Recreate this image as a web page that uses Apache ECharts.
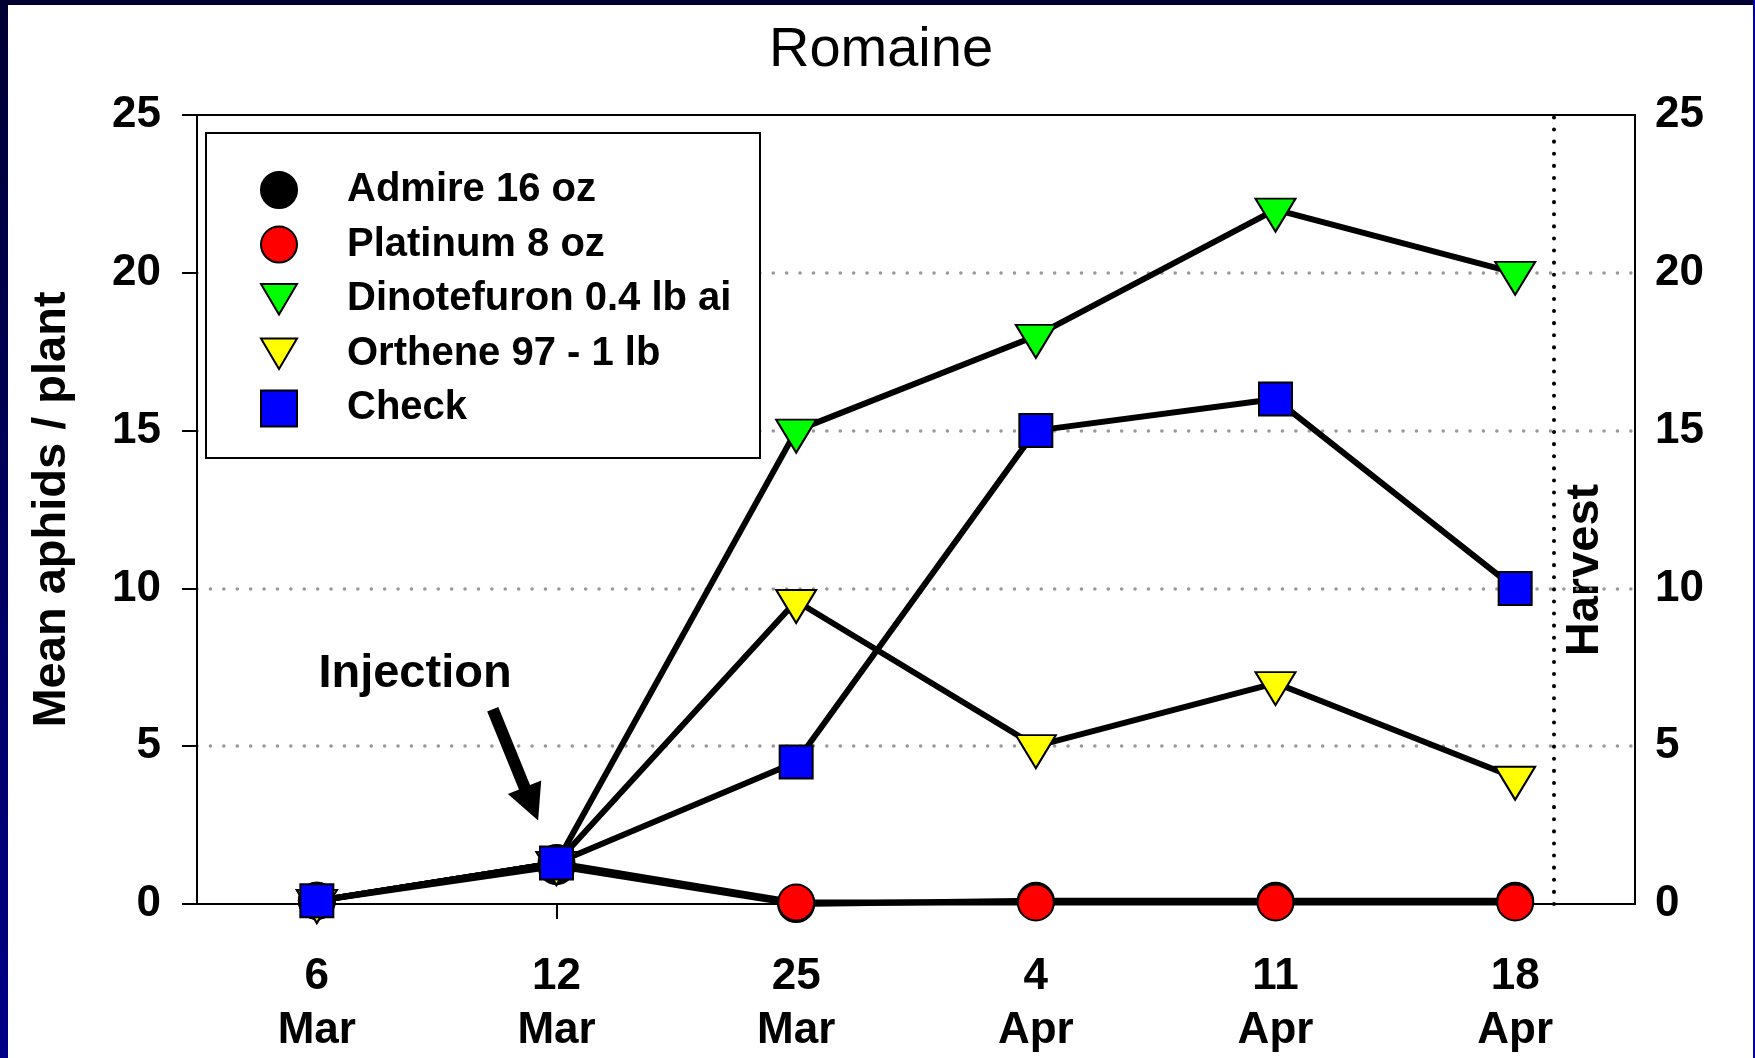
<!DOCTYPE html>
<html>
<head>
<meta charset="utf-8">
<script src="https://cdn.jsdelivr.net/npm/echarts@6/dist/echarts.min.js"></script>
<style>
  html, body { margin: 0; padding: 0; }
  body { width: 1755px; height: 1058px; background: #000033; position: relative; overflow: hidden; }
  #leftStrip { position: absolute; left: 0; top: 0; width: 8px; height: 1058px; background: linear-gradient(#000033, #000088); }
  #rightStrip { position: absolute; right: 0; top: 0; width: 2px; height: 1058px; background: #0000a0; }
  #panel { position: absolute; left: 8px; top: 5px; width: 1745px; height: 1053px; background: #ffffff; }
  #chart { position: absolute; left: 0; top: 0; width: 1755px; height: 1058px; }
</style>
</head>
<body>
<div id="leftStrip"></div>
<div id="rightStrip"></div>
<div id="panel"></div>
<div id="chart"></div>
<script>
// ---- data ----
const dayLabels = ['6', '12', '25', '4', '11', '18'];
const monthLabels = ['Mar', 'Mar', 'Mar', 'Apr', 'Apr', 'Apr'];
const seriesNames = ['Admire 16 oz', 'Platinum 8 oz', 'Dinotefuron 0.4 lb ai', 'Orthene 97 - 1 lb', 'Check'];
const admire      = [0.1, 1.2, 0.0, 0.1, 0.1, 0.1];
const platinum    = [0.1, 1.3, 0.05, 0.05, 0.05, 0.05];
const dinotefuron = [0.1, 1.3, 15, 18, 22, 20];
const orthene     = [0.1, 1.3, 9.6, 5, 7, 4];
const check       = [0.1, 1.3, 4.5, 15, 16, 10];
const yTicks = [0, 5, 10, 15, 20, 25];
const harvestPosition = 5.157;               // between 18 Apr and plot edge (category index units)
const injectionArrow = [[0.734, 6.17], [0.895, 3.17]];

const FONT = '"Liberation Sans", Arial, Helvetica, sans-serif';
const categories = dayLabels.map((d, i) => d + '\n' + monthLabels[i]);

const chart = echarts.init(document.getElementById('chart'), null, { renderer: 'canvas' });

function lineSeries(name, values, color, symbol, size, rotate, offset) {
  return {
    name: name,
    type: 'line',
    xAxisIndex: 0,
    yAxisIndex: 0,
    data: values,
    symbol: symbol,
    symbolSize: size,
    symbolRotate: rotate,
    symbolOffset: offset,
    showAllSymbol: true,
    lineStyle: { color: '#000', width: 6 },
    itemStyle: { color: color, borderColor: '#000', borderWidth: 2, opacity: 1 },
    emphasis: { disabled: true },
    silent: true,
    z: 3
  };
}

const downTri = 'path://M0,0L40,0L20,34Z';

const option = {
  animation: false,
  backgroundColor: 'transparent',
  textStyle: { fontFamily: FONT },
  grid: { left: 197, right: 120, top: 115, bottom: 153, containLabel: false },
  legend: {
    orient: 'vertical',
    left: 260,
    top: 170,
    padding: 0,
    itemWidth: 36,
    itemHeight: 36,
    itemGap: 14.6,
    selectedMode: false,
    textStyle: { fontFamily: FONT, fontSize: 40, fontWeight: 'bold', color: '#000', padding: [0, 0, 0, 45], lineHeight: 36 },
    data: [
      { name: seriesNames[0], icon: 'circle' },
      { name: seriesNames[1], icon: 'circle' },
      { name: seriesNames[2], icon: downTri },
      { name: seriesNames[3], icon: downTri },
      { name: seriesNames[4], icon: 'rect' }
    ],
    z: 5
  },
  xAxis: [
    {
      type: 'category',
      data: categories,
      position: 'bottom',
      boundaryGap: true,
      axisLine: { show: true, lineStyle: { color: '#000', width: 2 } },
      axisTick: { show: true, alignWithLabel: true, inside: false, length: 15, lineStyle: { color: '#000', width: 2 } },
      axisLabel: { show: true, interval: 0, margin: 46, color: '#000', fontFamily: FONT, fontSize: 44, fontWeight: 'bold', lineHeight: 54 },
      splitLine: { show: false }
    },
    {
      type: 'value',
      position: 'top',
      min: -0.5,
      max: 5.5,
      axisLine: { show: true, onZero: false, lineStyle: { color: '#000', width: 2 } },
      axisTick: { show: false },
      axisLabel: { show: false },
      splitLine: { show: false }
    }
  ],
  yAxis: [
    {
      type: 'value',
      position: 'left',
      min: 0,
      max: 25,
      interval: 5,
      name: 'Mean aphids / plant',
      nameLocation: 'middle',
      nameRotate: 90,
      nameGap: 121,
      nameTextStyle: { fontFamily: FONT, fontSize: 47, fontWeight: 'bold', color: '#000' },
      axisLine: { show: true, onZero: false, lineStyle: { color: '#000', width: 2 } },
      axisTick: { show: true, inside: false, length: 15, lineStyle: { color: '#000', width: 2 } },
      axisLabel: { margin: 36, color: '#000', fontFamily: FONT, fontSize: 44, fontWeight: 'bold',
                   customValues: yTicks },
      splitLine: { show: true, showMinLine: false, showMaxLine: false,
                   lineStyle: { color: '#999999', width: 3.5, type: [0.1, 13.3], cap: 'round' } }
    },
    {
      type: 'value',
      position: 'right',
      min: 0,
      max: 25,
      interval: 5,
      axisLine: { show: true, onZero: false, lineStyle: { color: '#000', width: 2 } },
      axisTick: { show: false },
      axisLabel: { margin: 20, color: '#000', fontFamily: FONT, fontSize: 44, fontWeight: 'bold' },
      splitLine: { show: false }
    }
  ],
  graphic: [
    {
      type: 'rect',
      shape: { x: 206, y: 133, width: 554, height: 325 },
      style: { fill: '#ffffff', stroke: '#000', lineWidth: 2 },
      z: 4,
      silent: true
    },
    {
      type: 'text',
      x: 881, y: 51,
      style: { text: 'Romaine', fontFamily: FONT, fontSize: 56, fontWeight: 'normal', fill: '#000', align: 'center', verticalAlign: 'middle' },
      silent: true
    },
    {
      type: 'text',
      x: 415, y: 674,
      style: { text: 'Injection', fontFamily: FONT, fontSize: 47, fontWeight: 'bold', fill: '#000', align: 'center', verticalAlign: 'middle' },
      silent: true
    },
    {
      type: 'text',
      x: 1585, y: 570,
      rotation: Math.PI / 2,
      style: { text: 'Harvest', fontFamily: FONT, fontSize: 47, fontWeight: 'bold', fill: '#000', align: 'center', verticalAlign: 'middle' },
      silent: true
    }
  ],
  series: [
    lineSeries(seriesNames[0], admire, '#000000', 'circle', 36, 0, [0, 0]),
    lineSeries(seriesNames[1], platinum, '#ff0000', 'circle', 36, 0, [0, 0]),
    lineSeries(seriesNames[2], dinotefuron, '#00ff00', 'triangle', [40, 33], 180, [0, 5.5]),
    lineSeries(seriesNames[3], orthene, '#ffff00', 'triangle', [40, 33], 180, [0, 5.5]),
    lineSeries(seriesNames[4], check, '#0000ff', 'rect', 33, 0, [0, 0]),
    {
      name: 'harvest',
      type: 'line',
      xAxisIndex: 1,
      yAxisIndex: 0,
      data: [],
      silent: true,
      markLine: {
        silent: true,
        symbol: ['none', 'none'],
        label: { show: false },
        emphasis: { disabled: true },
        lineStyle: { color: '#000', width: 4, type: [0.1, 12], cap: 'round' },
        data: [{ xAxis: harvestPosition }]
      }
    },
    {
      name: 'injection',
      type: 'line',
      xAxisIndex: 1,
      yAxisIndex: 0,
      data: [],
      silent: true,
      markLine: {
        silent: true,
        symbol: ['none', 'triangle'],
        symbolSize: [36, 36],
        label: { show: false },
        emphasis: { disabled: true },
        lineStyle: { color: '#000', width: 12, type: 'solid' },
        itemStyle: { color: '#000' },
        data: [[{ coord: injectionArrow[0] }, { coord: injectionArrow[1] }]]
      }
    }
  ]
};

chart.setOption(option);
</script>
</body>
</html>
